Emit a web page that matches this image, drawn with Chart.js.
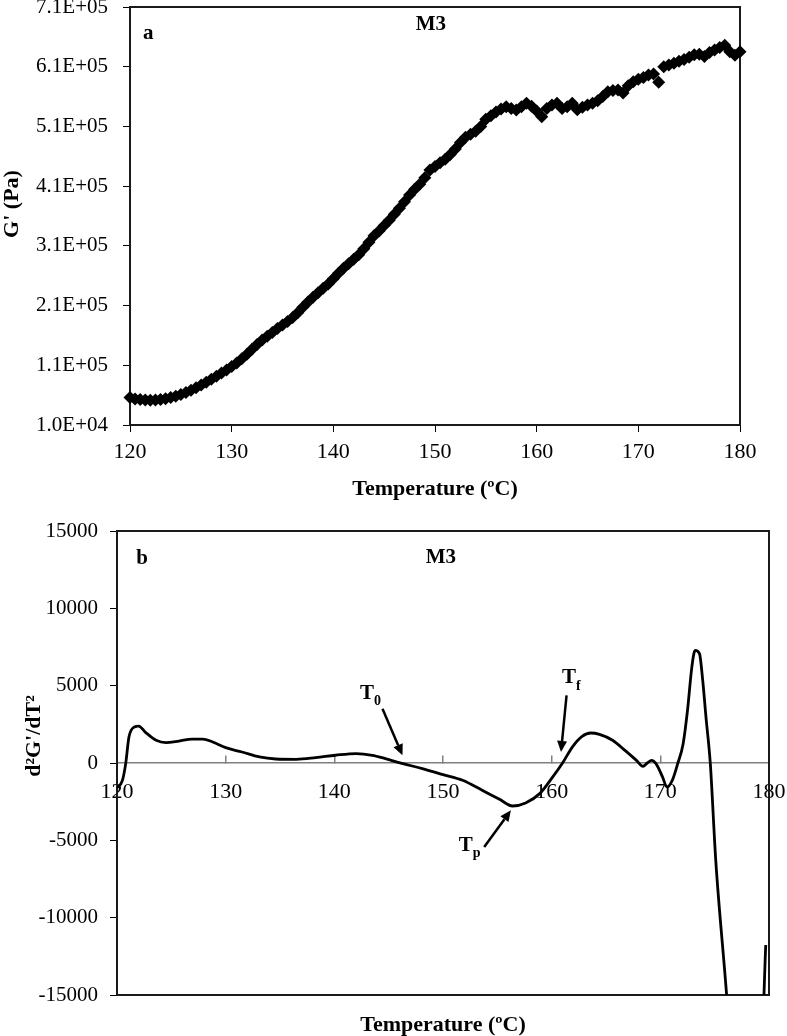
<!DOCTYPE html>
<html lang="en">

<head>
    <meta charset="UTF-8">
    <title>M3 - G' and d2G'/dT2 vs temperature</title>
    <script src="https://cdn.jsdelivr.net/npm/chart.js"></script>
    <style>
        body { margin: 0; background: #fff; overflow: hidden; }
        canvas { position: absolute; left: 0; }
    </style>
</head>

<body>
    <canvas id="chart_g" width="787" height="510" style="top:0"></canvas>
    <canvas id="chart_d2" width="787" height="526" style="top:510px"></canvas>

    <script>
        // ---- panel a: G' vs temperature ----
        var temps_g = [120, 120.5, 121, 121.5, 122, 122.5, 123, 123.5, 124, 124.5,
            125, 125.5, 126, 126.5, 127, 127.5, 128, 128.5, 129, 129.5,
            130, 130.5, 131, 131.5, 132, 132.5, 133, 133.5, 134, 134.5,
            135, 135.5, 136, 136.5, 137, 137.5, 138, 138.5, 139, 139.5,
            140, 140.5, 141, 141.5, 142, 142.5, 143, 143.5, 144, 144.5,
            145, 145.5, 146, 146.5, 147, 147.5, 148, 148.5, 149, 149.5,
            150, 150.5, 151, 151.5, 152, 152.5, 153, 153.5, 154, 154.5,
            155, 155.5, 156, 156.5, 157, 157.5, 158, 158.5, 159, 159.5,
            160, 160.5, 161, 161.5, 162, 162.5, 163, 163.5, 164, 164.5,
            165, 165.5, 166, 166.5, 167, 167.5, 168, 168.5, 169, 169.5,
            170, 170.5, 171, 171.5, 172, 172.5, 173, 173.5, 174, 174.5,
            175, 175.5, 176, 176.5, 177, 177.5, 178, 178.5, 179, 179.5, 180];
        var gprime = [56000, 53500, 52500, 52000, 51500, 51800, 52500, 54000, 56000, 58000,
            61000, 64500, 68000, 72500, 77000, 81500, 86500, 91500, 97000, 102000,
            108000, 114000, 121000, 128500, 137000, 145000, 152500, 158500, 165000, 171500,
            177500, 183500, 190000, 198000, 207000, 216000, 224000, 231500, 239000, 246000,
            255000, 264000, 272500, 280000, 287500, 295000, 305000, 316000, 327000, 335000,
            344000, 353000, 363000, 373000, 384000, 395000, 405000, 413000, 424000, 437000,
            443000, 449000, 455000, 463000, 472000, 483000, 492000, 497000, 502000, 510000,
            522000, 528000, 534000, 539000, 543000, 540000, 537500, 543000, 549000, 544000,
            536000, 526000, 540000, 546000, 549000, 540000, 543000, 549000, 538000, 542000,
            546000, 549000, 553000, 560000, 568000, 570000, 571000, 566000, 578000, 585000,
            589000, 592000, 596000, 598000, 584000, 610000, 613000, 616000, 619000, 622000,
            626000, 630000, 631000, 627000, 634000, 638000, 642000, 646000, 635000, 629000, 635000];
        var gTicks = [10000, 110000, 210000, 310000, 410000, 510000, 610000, 710000];
        var gTickLabels = ['1.0E+04', '1.1E+05', '2.1E+05', '3.1E+05', '4.1E+05', '5.1E+05', '6.1E+05', '7.1E+05'];

        // ---- panel b: second derivative ----
        var temps_d2 = [120, 120.5, 120.8, 121.1, 121.6, 122, 122.6, 123.6, 124.5, 125.7,
            126.9, 127.9, 128.8, 130, 131.5, 133.1, 134.6, 136.5, 138.3, 140.1,
            142, 143.5, 144.7, 146.3, 148.1, 150, 151.8, 153.6, 155.2, 156.4,
            157.6, 158.9, 160.1, 161, 161.9, 162.8, 163.6, 164.4, 165.6, 166.8,
            167.8, 168.4, 168.8, 169.2, 169.6, 170.2, 170.6, 171.1, 171.6, 172.1,
            172.5, 172.9, 173.2, 173.6, 173.9, 174.2, 174.6, 175.1, 176.1, 176.6,
            179.2, 179.7];
        var d2g = [-1600, -1120, -40, 1680, 2330, 2390, 2000, 1470, 1320, 1420,
            1550, 1550, 1360, 990, 710, 390, 260, 240, 350, 500,
            610, 500, 280, -40, -360, -750, -1120, -1760, -2350, -2780,
            -2580, -1980, -900, 0, 1030, 1720, 1940, 1850, 1470, 780,
            170, -210, 0, 170, -40, -900, -1550, -1120, -40, 1250,
            3400, 6200, 7280, 7070, 5340, 2970, -40, -6290, -15000, -20000,
            -20000, -11770];

        // annotations (data coordinates)
        var notesG = [
            { text: 'a', x: 121.8, y: 666000 },
            { text: 'M3', x: 149.6, y: 680000 }
        ];
        var notesD2 = [
            { text: 'b', x: 122.3, y: 13220 },
            { text: 'M3', x: 149.8, y: 13290 },
            { text: 'T', sub: '0', x: 143.0, y: 4500 },
            { text: 'T', sub: 'f', x: 161.6, y: 5500 },
            { text: 'T', sub: 'p', x: 152.1, y: -5320 }
        ];
        var arrowsD2 = [
            { x1: 144.43, y1: 3515, x2: 146.27, y2: 500 },
            { x1: 161.37, y1: 4370, x2: 160.86, y2: 710 },
            { x1: 153.79, y1: -5430, x2: 156.25, y2: -3055 }
        ];

        var serif = "'Liberation Serif', 'Times New Roman', serif";
        Chart.defaults.font.family = serif;
        Chart.defaults.color = '#000';

        // frame, free text, arrows and rotated y titles
        var decorPlugin = {
            id: 'decor',
            beforeDatasetsDraw: function (chart, args, opts) {
                var a = chart.chartArea, ctx = chart.ctx;
                ctx.save();
                ctx.strokeStyle = '#1a1a1a';
                ctx.lineWidth = 2;
                ctx.strokeRect(a.left, a.top, a.right - a.left, a.bottom - a.top);
                ctx.restore();
            },
            afterDatasetsDraw: function (chart, args, opts) {
                var ctx = chart.ctx, sx = chart.scales.x, sy = chart.scales.y;
                ctx.save();
                ctx.fillStyle = '#000';
                ctx.strokeStyle = '#000';

                (opts.notes || []).forEach(function (n) {
                    var px = sx.getPixelForValue(n.x), py = sy.getPixelForValue(n.y);
                    ctx.font = 'bold 21px ' + serif;
                    ctx.textAlign = 'center';
                    ctx.textBaseline = 'middle';
                    ctx.fillText(n.text, px, py);
                    if (n.sub) {
                        var w = ctx.measureText(n.text).width;
                        ctx.font = 'bold 14px ' + serif;
                        ctx.textAlign = 'left';
                        ctx.textBaseline = 'alphabetic';
                        ctx.fillText(n.sub, px + w / 2, py + 12);
                    }
                });

                (opts.arrows || []).forEach(function (ar) {
                    var x1 = sx.getPixelForValue(ar.x1), y1 = sy.getPixelForValue(ar.y1);
                    var x2 = sx.getPixelForValue(ar.x2), y2 = sy.getPixelForValue(ar.y2);
                    var ang = Math.atan2(y2 - y1, x2 - x1);
                    var hl = 11, hw = 5;
                    var bx = x2 - hl * Math.cos(ang), by = y2 - hl * Math.sin(ang);
                    ctx.lineWidth = 2.5;
                    ctx.beginPath();
                    ctx.moveTo(x1, y1);
                    ctx.lineTo(bx, by);
                    ctx.stroke();
                    ctx.beginPath();
                    ctx.moveTo(x2, y2);
                    ctx.lineTo(bx + hw * Math.sin(ang), by - hw * Math.cos(ang));
                    ctx.lineTo(bx - hw * Math.sin(ang), by + hw * Math.cos(ang));
                    ctx.closePath();
                    ctx.fill();
                });

                if (opts.yTitle) {
                    ctx.save();
                    ctx.translate(opts.yTitle.x, opts.yTitle.y);
                    ctx.rotate(-Math.PI / 2);
                    ctx.font = 'bold 22px ' + serif;
                    ctx.textAlign = 'center';
                    ctx.textBaseline = 'middle';
                    ctx.fillText(opts.yTitle.text, 0, 0);
                    ctx.restore();
                }
                if (opts.xTitle) {
                    ctx.font = 'bold 22px ' + serif;
                    ctx.textAlign = 'center';
                    ctx.textBaseline = 'middle';
                    ctx.fillText(opts.xTitle.text, opts.xTitle.x, opts.xTitle.y);
                }
                ctx.restore();
            }
        };

        var noPad = function (s) {
            s.paddingTop = 0; s.paddingBottom = 0; s.paddingLeft = 0; s.paddingRight = 0;
        };

        // ---- chart a ----
        var ctx_g = document.getElementById('chart_g').getContext('2d');
        var chart_g = new Chart(ctx_g, {
            type: 'scatter',
            data: {
                datasets: [{
                    label: "G'",
                    data: temps_g.map(function (t, i) { return { x: t, y: gprime[i] }; }),
                    pointStyle: 'rectRot',
                    pointRadius: 6.5,
                    backgroundColor: '#000',
                    borderColor: '#000',
                    borderWidth: 0,
                    clip: false
                }]
            },
            options: {
                responsive: false,
                animation: false,
                events: [],
                layout: { autoPadding: false, padding: { left: 0, right: 47, top: 7, bottom: 0 } },
                plugins: {
                    legend: { display: false },
                    tooltip: { enabled: false },
                    decor: { notes: notesG, yTitle: { text: "G' (Pa)", x: 12, y: 204 } }
                },
                scales: {
                    x: {
                        type: 'linear', min: 120, max: 180,
                        ticks: { stepSize: 10, padding: 7, font: { size: 22 }, callback: function (v) { return String(v); } },
                        grid: { drawOnChartArea: false, tickLength: 7, color: '#000' },
                        border: { display: false },
                        title: { display: true, text: 'Temperature (ºC)', font: { size: 22, weight: 'bold' }, padding: { top: 0, bottom: 7 } },
                        afterFit: function (s) { s.height = 85; noPad(s); }
                    },
                    y: {
                        min: 10000, max: 710000,
                        afterBuildTicks: function (s) { s.ticks = gTicks.map(function (v) { return { value: v }; }); },
                        ticks: { padding: 15, font: { size: 21 }, callback: function (v, i) { return gTickLabels[i]; } },
                        grid: { drawOnChartArea: false, tickLength: 7, color: '#000' },
                        border: { display: false },
                        afterFit: function (s) { s.width = 130; noPad(s); }
                    }
                }
            },
            plugins: [decorPlugin]
        });

        // ---- chart b ----
        var ctx_d2 = document.getElementById('chart_d2').getContext('2d');
        var chart_d2 = new Chart(ctx_d2, {
            type: 'scatter',
            data: {
                datasets: [{
                    label: "d2G'/dT2",
                    data: temps_d2.map(function (t, i) { return { x: t, y: d2g[i] }; }),
                    showLine: true,
                    pointRadius: 0,
                    borderColor: '#000',
                    borderWidth: 2.8,
                    cubicInterpolationMode: 'monotone'
                }]
            },
            options: {
                responsive: false,
                animation: false,
                events: [],
                layout: { autoPadding: false, padding: { left: 0, right: 18, top: 21, bottom: 41 } },
                plugins: {
                    legend: { display: false },
                    tooltip: { enabled: false },
                    decor: {
                        notes: notesD2,
                        arrows: arrowsD2,
                        yTitle: { text: "d²G'/dT²", x: 34, y: 226 },
                        xTitle: { text: 'Temperature (ºC)', x: 443, y: 515 }
                    }
                },
                scales: {
                    x: {
                        type: 'linear', min: 120, max: 180,
                        position: { y: 0 },
                        ticks: { stepSize: 10, padding: 24, font: { size: 22 }, callback: function (v) { return String(v); } },
                        grid: { drawOnChartArea: false, tickLength: -8, color: '#808080', lineWidth: 1.5 },
                        border: { color: '#808080', width: 1.5 },
                        afterFit: noPad
                    },
                    y: {
                        min: -15000, max: 15000,
                        ticks: { stepSize: 5000, padding: 12, font: { size: 21 }, callback: function (v) { return String(v); } },
                        grid: { drawOnChartArea: false, tickLength: 7, color: '#000' },
                        border: { display: false },
                        afterFit: function (s) { s.width = 117; noPad(s); }
                    }
                }
            },
            plugins: [decorPlugin]
        });
    </script>
</body>

</html>
